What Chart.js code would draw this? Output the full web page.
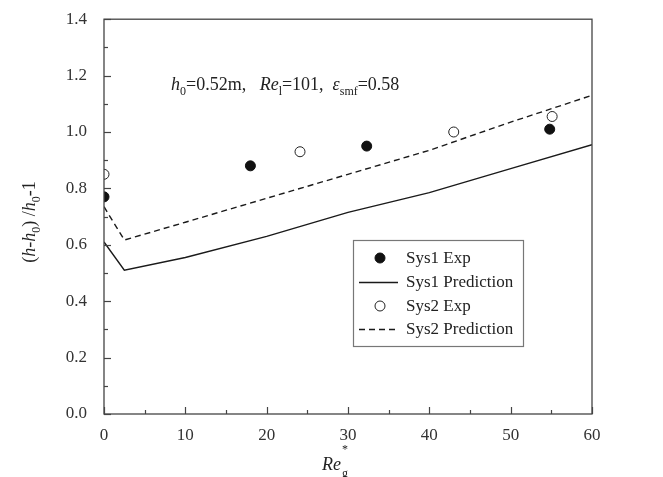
<!DOCTYPE html>
<html lang="en">
<head>
    <meta charset="UTF-8">
    <title>Bed expansion vs Re_g*</title>
    <script src="https://cdn.jsdelivr.net/npm/chart.js"></script>
    <style>
        html, body { margin: 0; padding: 0; background: #fff; }
        #wrap { width: 663px; height: 477px; }
    </style>
</head>
<body>
<div id="wrap"><canvas id="bedChart" width="663" height="477"></canvas></div>

<script>
    // values
    const sys1ExpX = [0, 18.0, 32.3, 54.8];
    const sys1ExpY = [0.77, 0.88, 0.95, 1.01];
    const sys2ExpX = [0, 24.1, 43.0, 55.1];
    const sys2ExpY = [0.85, 0.93, 1.0, 1.055];
    const predX = [0, 2.5, 10, 20, 30, 40, 50, 60];
    const sys1PredY = [0.61, 0.51, 0.555, 0.63, 0.715, 0.785, 0.87, 0.955];
    const sys2PredY = [0.735, 0.617, 0.68, 0.765, 0.85, 0.935, 1.035, 1.13];
    const xTicks = [0, 10, 20, 30, 40, 50, 60];
    const yTicks = [0.0, 0.2, 0.4, 0.6, 0.8, 1.0, 1.2, 1.4];

    const serif = '"Liberation Serif", "DejaVu Serif", serif';
    const pts = (xs, ys) => xs.map((x, i) => ({ x: x, y: ys[i] }));

    const data = {
        datasets: [
            {
                label: 'Sys1 Exp',
                type: 'scatter',
                data: pts(sys1ExpX, sys1ExpY),
                pointRadius: 5,
                pointBackgroundColor: '#111',
                pointBorderColor: '#111',
                showLine: false
            },
            {
                label: 'Sys1 Prediction',
                type: 'line',
                data: pts(predX, sys1PredY),
                borderColor: '#1a1a1a',
                borderWidth: 1.4,
                pointRadius: 0,
                tension: 0,
                fill: false
            },
            {
                label: 'Sys2 Exp',
                type: 'scatter',
                data: pts(sys2ExpX, sys2ExpY),
                pointRadius: 5,
                pointBackgroundColor: '#fff',
                pointBorderColor: '#222',
                pointBorderWidth: 1,
                showLine: false
            },
            {
                label: 'Sys2 Prediction',
                type: 'line',
                data: pts(predX, sys2PredY),
                borderColor: '#1a1a1a',
                borderWidth: 1.4,
                borderDash: [6, 4],
                pointRadius: 0,
                tension: 0,
                fill: false
            }
        ]
    };

    // frame, inward ticks, legend box and rich-text labels
    const decor = {
        id: 'decor',
        afterDraw(chart) {
            const c = chart.ctx;
            const a = chart.chartArea;
            const xs = chart.scales.x, ys = chart.scales.y;
            c.save();
            c.strokeStyle = '#444';
            c.lineWidth = 1.3;
            c.strokeRect(a.left, a.top, a.right - a.left, a.bottom - a.top);

            c.lineWidth = 1.2;
            for (let v = 0; v <= 60; v += 5) {
                const px = Math.round(xs.getPixelForValue(v)) + 0.5;
                const len = v % 10 === 0 ? 7 : 4;
                c.beginPath(); c.moveTo(px, a.bottom); c.lineTo(px, a.bottom - len); c.stroke();
            }
            for (let k = 0; k <= 14; k++) {
                const py = Math.round(ys.getPixelForValue(k / 10)) + 0.5;
                const len = k % 2 === 0 ? 7 : 4;
                c.beginPath(); c.moveTo(a.left, py); c.lineTo(a.left + len, py); c.stroke();
            }

            // legend
            const lx = 353, ly = 240, lw = 170, lh = 106;
            c.fillStyle = '#fff';
            c.fillRect(lx, ly, lw, lh);
            c.strokeStyle = '#777';
            c.lineWidth = 1.2;
            c.strokeRect(lx + 0.5, ly + 0.5, lw, lh);
            const rows = [258, 282, 306, 329];
            c.font = '17px ' + serif;
            c.textBaseline = 'middle';
            chart.data.datasets.forEach((ds, i) => {
                const y = rows[i];
                if (ds.type === 'scatter') {
                    c.beginPath();
                    c.arc(380, y, 5, 0, Math.PI * 2);
                    c.fillStyle = ds.pointBackgroundColor;
                    c.fill();
                    c.strokeStyle = ds.pointBorderColor;
                    c.lineWidth = 1;
                    c.stroke();
                } else {
                    c.beginPath();
                    c.setLineDash(ds.borderDash || []);
                    c.strokeStyle = ds.borderColor;
                    c.lineWidth = ds.borderWidth;
                    c.moveTo(359, y + 0.5); c.lineTo(398, y + 0.5);
                    c.stroke();
                    c.setLineDash([]);
                }
                c.fillStyle = '#222';
                c.fillText(ds.label, 406, y + 1);
            });

            // rich text helper: parts of [text, style]
            function rich(parts, x, y, base) {
                c.textBaseline = 'alphabetic';
                let cx = x;
                parts.forEach(p => {
                    const [t, st] = p;
                    let size = base, dy = 0, it = '';
                    if (st === 'i') it = 'italic ';
                    if (st === 'sub') { size = Math.round(base * 0.65); dy = 5; }
                    c.font = it + size + 'px ' + serif;
                    c.fillText(t, cx, y + dy);
                    cx += c.measureText(t).width;
                });
                return cx - x;
            }
            c.fillStyle = '#222';
            rich([['h', 'i'], ['0', 'sub'], ['=0.52m,   ', ''], ['Re', 'i'], ['l', 'sub'],
                  ['=101,  ', ''], ['\u03b5', 'i'], ['smf', 'sub'], ['=0.58', '']], 171, 90, 18);

            // x title
            c.font = 'italic 18px ' + serif;
            c.fillText('Re', 322, 470);
            c.font = '12px ' + serif;
            c.fillText('*', 342, 453);
            c.fillText('g', 342, 477);

            // y title rotated
            c.save();
            c.translate(35, 222);
            c.rotate(-Math.PI / 2);
            const yParts = [['(', ''], ['h', 'i'], ['-', ''], ['h', 'i'], ['0', 'sub'],
                            [') /', ''], ['h', 'i'], ['0', 'sub'], ['-1', '']];
            let w = 0;
            yParts.forEach(p => {
                c.font = (p[1] === 'i' ? 'italic 18px ' : (p[1] === 'sub' ? '12px ' : '18px ')) + serif;
                w += c.measureText(p[0]).width;
            });
            rich(yParts, -w / 2, 0, 18);
            c.restore();
            c.restore();
        }
    };

    const ctx = document.getElementById('bedChart').getContext('2d');
    const bedChart = new Chart(ctx, {
        data: data,
        plugins: [decor],
        options: {
            responsive: false,
            animation: false,
            layout: { padding: { top: 18, right: 71, left: 0, bottom: 0 } },
            plugins: {
                legend: { display: false },
                tooltip: { enabled: false }
            },
            scales: {
                x: {
                    type: 'linear',
                    min: 0,
                    max: 60,
                    afterBuildTicks: (s) => { s.ticks = xTicks.map(v => ({ value: v })); },
                    afterFit: (s) => { s.height = 63; },
                    grid: { display: false },
                    border: { display: false },
                    ticks: {
                        padding: 3,
                        color: '#333',
                        font: { family: serif, size: 17 },
                        maxRotation: 0
                    }
                },
                y: {
                    type: 'linear',
                    min: 0,
                    max: 1.4,
                    afterBuildTicks: (s) => { s.ticks = yTicks.map(v => ({ value: v })); },
                    afterFit: (s) => { s.width = 104; },
                    grid: { display: false },
                    border: { display: false },
                    ticks: {
                        padding: 9,
                        color: '#333',
                        font: { family: serif, size: 17 },
                        callback: (v) => Number(v).toFixed(1)
                    }
                }
            }
        }
    });
</script>
</body>
</html>
